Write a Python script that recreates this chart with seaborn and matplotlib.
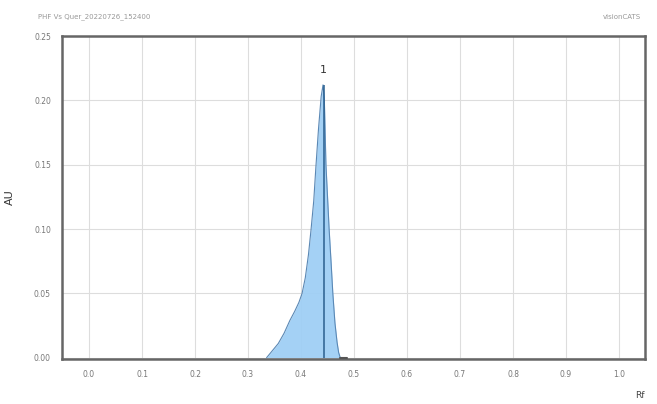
import matplotlib
matplotlib.use("Agg")
import matplotlib.pyplot as plt
import seaborn as sns
import pandas as pd
import numpy as np

# data
rf = [0.335, 0.345, 0.357, 0.368, 0.379, 0.388, 0.396, 0.402, 0.408, 0.414, 0.419, 0.424, 0.428,
      0.433, 0.438, 0.4415, 0.444, 0.447, 0.450, 0.453, 0.457, 0.460, 0.464, 0.468, 0.471, 0.474]
au = [0.000, 0.005, 0.011, 0.019, 0.029, 0.036, 0.043, 0.050, 0.062, 0.080, 0.100, 0.122, 0.148,
      0.178, 0.203, 0.212, 0.200, 0.150, 0.125, 0.100, 0.072, 0.050, 0.027, 0.012, 0.004, 0.000]
tail_rf = [0.474, 0.487]
tail_au = [0.000, 0.000]
peak_rf = 0.443
peak_au = 0.212
peak_label = "1"
x_ticks = [0.0, 0.1, 0.2, 0.3, 0.4, 0.5, 0.6, 0.7, 0.8, 0.9, 1.0]
y_ticks = [0.00, 0.05, 0.10, 0.15, 0.20, 0.25]

df = pd.DataFrame({"Rf": rf, "AU": au})

sns.set_theme(style="white")
plt.rcParams['font.family'] = ['DejaVu Sans']

fig = plt.figure(figsize=(6.57, 4.04), dpi=100)
ax = fig.add_axes([62/657, 1 - 359/404, (645-62)/657, (359-36)/404])

ax.fill_between(df["Rf"], df["AU"], 0, color="#9fcff5", alpha=0.95, linewidth=0, zorder=2)
sns.lineplot(data=df, x="Rf", y="AU", ax=ax, color="#5a88b5", linewidth=0.8, zorder=3,
             sort=False, estimator=None)
ax.plot(tail_rf, tail_au, color="#555555", linewidth=1.5, zorder=3)
ax.vlines(peak_rf, 0, peak_au, color="#2a5f8f", linewidth=1.1, zorder=4)
ax.text(peak_rf, peak_au + 0.008, peak_label, ha="center", va="bottom", fontsize=8, color="#333333")

ax.set_xlim(-0.051, 1.049)
ax.set_ylim(-0.001, 0.25)
ax.set_xticks(x_ticks)
ax.set_yticks(y_ticks)
ax.set_xticklabels([f"{t:.1f}" for t in x_ticks])
ax.set_yticklabels([f"{t:.2f}" for t in y_ticks])
ax.tick_params(axis="both", labelsize=5.5, colors="#777777", length=0, pad=8)
ax.grid(True, color="#dddddd", linewidth=0.8)
ax.set_axisbelow(True)
for s in ax.spines.values():
    s.set_color("#666666")
    s.set_linewidth(1.8)
ax.set_xlabel("")
ax.set_ylabel("AU", fontsize=8, color="#333333", labelpad=14)

fig.text(38/657, 1 - 17/404, "PHF Vs Quer_20220726_152400", fontsize=5, color="#999999", va="center", ha="left")
fig.text(641/657, 1 - 17/404, "visionCATS", fontsize=5, color="#999999", va="center", ha="right")
fig.text(640/657, 1 - 395/404, "Rf", fontsize=6.5, color="#444444", va="center", ha="center")

fig.savefig("out.png", dpi=100)
